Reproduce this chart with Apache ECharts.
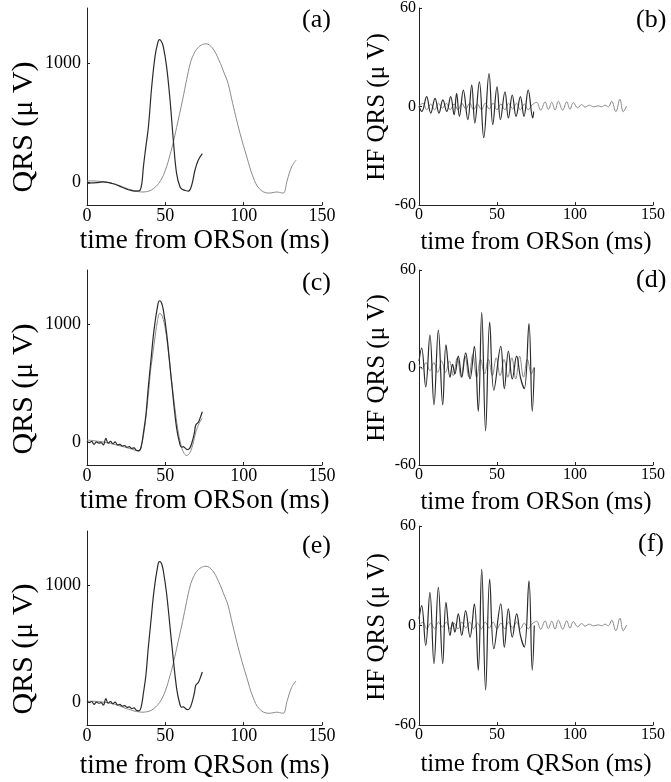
<!DOCTYPE html>
<html>
<head>
<meta charset="utf-8">
<script src="https://cdn.jsdelivr.net/npm/echarts@6/dist/echarts.min.js"></script>
<style>
body{margin:0;background:#fff;}
#main{width:671px;height:782px;}
</style>
</head>
<body>
<div id="main"></div>
<script>
// x axis ticks (ms) and y ticks
var timeTicks = [0, 50, 100, 150];
var qrsTicks = [0, 1000];
var hfTicks = [-60, 0, 60];

// QRS signals, [time ms, uV]
// short QRS, smooth baseline (panel a, dark)
var qrsShort = [[0,-10],[3,-5],[6,-3],[10,3],[13,0],[16,-10],[19,-22],[22,-39],[25,-55],[28,-68],[30.6,-73],[32.5,-72],[33.8,-67],[35,-10],[36,129],[37.5,290],[39.2,465],[41.3,800],[43.4,1053],[45,1160],[46.2,1195],[47.5,1180],[48.7,1137],[50.8,969],[53,689],[55.1,353],[57.2,73],[59.4,-39],[61,-60],[62.5,-67],[64.7,-73],[66.8,-25],[68.9,101],[71,185],[73.6,241]];
// long QRS (panel a and e, gray)
var qrsLong = [[0,11],[3,12],[6,11],[10,5],[13,0],[16,-8],[19,-20],[22,-34],[25,-50],[28,-62],[30.6,-73],[33,-78],[35,-81],[38,-78],[41,-65],[44,-35],[47,15],[50,100],[53,230],[55,330],[57.2,460],[61,690],[63.6,860],[66,1000],[68,1070],[70,1115],[73,1150],[76,1160],[80,1125],[84,1030],[88,900],[90,830],[93,660],[97.7,409],[102,213],[106,45],[110,-53],[115.7,-90],[118,-88],[121,-81],[123,-85],[125.3,-90],[127.8,17],[130.6,129],[133.4,185]];
// short QRS with noisy baseline (panel c and e, dark)
var qrsNoisy = [[0,15],[1.5,0],[3,10],[4.5,-15],[6,5],[7.5,-5],[9,0],[10.5,-20],[12,35],[13.5,-5],[15,10],[16.5,-10],[18,5],[19.5,-20],[21,-15],[22.5,-30],[24,-25],[25.5,-40],[27,-35],[28.5,-50],[30,-45],[31.5,-65],[33,-70],[34.5,-40],[36,80],[37.6,233],[39,450],[40.7,680],[42.8,955],[45,1150],[46.2,1200],[47.5,1185],[48.7,1122],[50.8,928],[54,511],[57.2,122],[59.4,-20],[60.5,-40],[61.5,-35],[62.5,-45],[64,-60],[65.5,-50],[67,0],[68.5,80],[69.5,150],[71,170],[72,200],[73.6,261]];
// second short QRS (panel c, gray)
var qrsSecond = [[0,20],[3,18],[6,12],[9,8],[12,0],[15,-8],[18,-18],[21,-28],[24,-38],[27,-50],[30,-62],[32,-70],[33.5,-68],[35,-10],[36.5,100],[38,260],[39.5,450],[40.5,600],[41.5,700],[43,850],[45,1030],[46.5,1094],[48,1070],[50,960],[52,760],[54,520],[56,300],[58,110],[60,-20],[61.5,-80],[63.6,-110],[65.5,-90],[67.5,-20],[69.5,90],[71.5,160],[73.6,206]];

// high frequency QRS, [time ms, uV]
var hfShort = [[0,0],[1.8,-3],[4.9,6],[7.5,-4],[10.3,5],[12.8,-4],[15.3,4],[17.8,-3],[20.3,6],[22.5,-5],[24.1,8],[25.9,-6],[28.4,10],[31.3,-8],[33.8,13],[35.8,-10],[38.7,15],[41.5,-19],[44.9,20],[47.3,-11],[50,12],[52.2,-8],[55.1,9],[57.3,-7],[59.8,7],[62.2,-6],[65,6],[67.3,-6],[70,10],[72.9,-7],[73.5,-3]];
var hfLong = [[0,0],[2.5,2],[5,-2],[7.5,1.5],[10,-2],[12.5,2],[15,-1],[17.5,2],[20,-2],[22.5,1.5],[25,-2],[27.5,2],[30,-1.5],[32.5,2],[35,-2],[37.5,1.5],[40,-2],[42.5,2],[45,-1.5],[47.5,2],[50,-2],[52.5,1.5],[55,-2],[57.5,2],[60,-1.5],[62.5,2],[65,-2],[67.5,1.5],[70,-2],[72.5,1],[75.4,2.5],[78,-2.2],[80.8,2.8],[82.9,-1.8],[85.1,2.6],[87.2,-2.2],[89.3,3.2],[92.1,-2.2],[94.7,2.8],[96.8,-1.6],[98.9,2.4],[101.7,-0.8],[104.3,1.2],[106.4,-0.4],[109.2,0.8],[111.8,-0.2],[115,0.4],[117.1,-0.2],[119.2,0.8],[121.4,-0.2],[123.5,3.2],[126.2,-3.2],[128.8,4.4],[130.9,-3.2],[133,0.2]];
var hfNoisy = [[0,4],[1.7,12],[4.3,-12],[7,20],[9.6,-23],[12.4,23],[15.2,-23],[17.3,14],[19.9,-6],[21.5,2],[23,-4],[25.2,7],[27.4,-6],[29.9,9],[32.7,-7],[35.5,13],[38,-27],[40.2,34],[42.7,-39],[45.3,28],[48,-14],[52.4,13],[54.7,-13],[57.3,10],[59.8,-7],[62.6,7],[65,-6],[67.5,-13],[70.5,27],[72.6,-27],[73.9,0]];
var hfSecond = [[0,2],[2,-1],[4.5,3],[7,-2],[9.5,3],[12,-3],[14.5,4],[17,-3],[19.5,4],[22,-5],[24.5,6],[27,-6],[29.5,7],[32,-6],[34.5,8],[37,-6],[39.5,5],[42,-4],[44.5,5],[47,-5],[49.5,6],[52,-5],[54.5,5],[57,-6],[59.5,6],[62,-7],[64.5,7],[67,-6],[69.5,5],[72,-4],[73.5,0]];

var serif = "'Liberation Serif','DejaVu Serif',serif";

window.onload = function(){
	var chart = echarts.init(document.getElementById('main'));

	// layout of the six panels
	var panels = [
		{label:'(a)', hf:false, dark:qrsShort, gray:qrsLong,  grid:{left:87, top:8,   width:235, height:197}, lab:[302,7],   yname:[24,127], xgap:22, xname:'time from ORSon (ms)'},
		{label:'(b)', hf:true,  dark:hfShort,  gray:hfLong,   grid:{left:419,top:8,   width:234, height:197}, lab:[636,7],   yname:[377,107], xgap:25, xname:'time from ORSon (ms)'},
		{label:'(c)', hf:false, dark:qrsNoisy, gray:qrsSecond,grid:{left:87, top:270, width:235, height:195}, lab:[302,270], yname:[24,389], xgap:22, xname:'time from ORSon (ms)'},
		{label:'(d)', hf:true,  dark:hfNoisy,  gray:hfSecond, grid:{left:419,top:270, width:234, height:195}, lab:[636,267], yname:[377,368], xgap:25, xname:'time from ORSon (ms)'},
		{label:'(e)', hf:false, dark:qrsNoisy, gray:qrsLong,  grid:{left:87, top:531, width:235, height:194}, lab:[302,533], yname:[24,649], xgap:27, xname:'time from QRSon (ms)'},
		{label:'(f)', hf:true,  dark:hfNoisy,  gray:hfLong,   grid:{left:419,top:526, width:234, height:199}, lab:[638,531], yname:[377,627], xgap:27, xname:'time from QRSon (ms)'}
	];

	var plain = function(v){ return String(v); };

	var grids = [], xAxes = [], yAxes = [], series = [], titles = [], texts = [];
	panels.forEach(function(p, i){
		grids.push(p.grid);
		var tickSize = p.hf ? 16 : 18;
		xAxes.push({
			type:'value', gridIndex:i, min:0, max:150,
			axisLine:{show:true, onZero:false, lineStyle:{color:'#222', width:1}},
			axisTick:{show:true, inside:true, length:3, lineStyle:{color:'#222'}, customValues:timeTicks},
			axisLabel:{color:'#000', fontFamily:serif, fontSize:tickSize, margin:2, customValues:timeTicks, formatter:plain},
			splitLine:{show:false},
			name:p.xname, nameLocation:'middle', nameGap:p.xgap,
			nameTextStyle:{color:'#000', fontFamily:serif, fontSize:p.hf ? 25 : 27}
		});
		if(p.hf){
			yAxes.push({
				type:'value', gridIndex:i, min:-60, max:60,
				axisLine:{show:true, onZero:false, lineStyle:{color:'#222', width:1}},
				axisTick:{show:true, inside:true, length:3, lineStyle:{color:'#222'}, customValues:hfTicks},
				axisLabel:{color:'#000', fontFamily:serif, fontSize:tickSize, margin:3, customValues:hfTicks, formatter:plain},
				splitLine:{show:false}
			});
		}else{
			yAxes.push({
				type:'value', gridIndex:i, min:-190, max:1460,
				axisLine:{show:true, onZero:false, lineStyle:{color:'#222', width:1}},
				axisTick:{show:true, inside:true, length:3, lineStyle:{color:'#222'}, customValues:qrsTicks},
				axisLabel:{color:'#000', fontFamily:serif, fontSize:tickSize, margin:6, customValues:qrsTicks, formatter:plain},
				splitLine:{show:false}
			});
		}
		series.push({
			type:'line', xAxisIndex:i, yAxisIndex:i, data:p.gray, showSymbol:false, smooth:0.4,
			lineStyle:{color:'#8a8a8a', width:1}, silent:true
		});
		series.push({
			type:'line', xAxisIndex:i, yAxisIndex:i, data:p.dark, showSymbol:false, smooth:0.4,
			lineStyle:{color:'#2a2a2a', width:1.2}, silent:true
		});
		titles.push({
			text:p.label, left:p.lab[0], top:p.lab[1], padding:0,
			textStyle:{color:'#000', fontFamily:serif, fontSize:26, fontWeight:'normal'}
		});
		// y axis name, rotated
		texts.push({
			type:'text', x:p.yname[0], y:p.yname[1], rotation:Math.PI/2,
			style:{
				text: p.hf ? 'HF QRS (\u03bc V)' : 'QRS (\u03bc V)',
				font: (p.hf ? 25 : 30) + 'px ' + serif,
				fill:'#000', textAlign:'center', textVerticalAlign:'middle'
			}
		});
	});

	var option = {
		animation:false,
		backgroundColor:'#fff',
		title:titles,
		grid:grids,
		xAxis:xAxes,
		yAxis:yAxes,
		series:series,
		graphic:texts
	};
	chart.setOption(option);
}
</script>
</body>
</html>
